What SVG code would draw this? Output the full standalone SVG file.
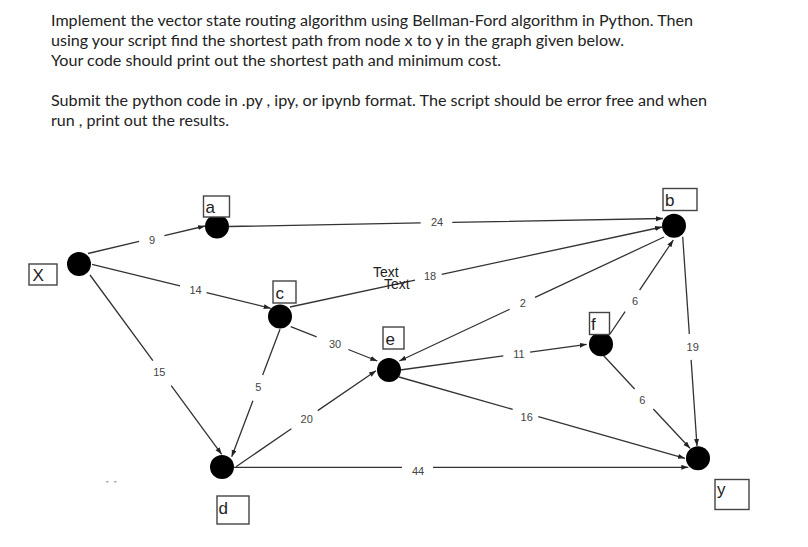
<svg xmlns="http://www.w3.org/2000/svg" width="808" height="547" viewBox="0 0 808 547">
<style>
.para{font-family:Lato,"Liberation Sans",sans-serif;font-size:15.5px;fill:#222}
.edge{stroke:#333;stroke-width:1.3;fill:none;marker-end:url(#arr)}
.elab{font-family:"Liberation Sans",Arial,sans-serif;font-size:11px;fill:#444;text-anchor:middle}
.node{fill:#000}
.box{fill:#fff;stroke:#444;stroke-width:1.4}
.blab{font-family:"Liberation Sans",Arial,sans-serif;font-size:17px;fill:#222}
.tx{font-family:"Liberation Sans",Arial,sans-serif;font-size:14px;fill:#222}
</style>
<defs>
<marker id="arr" markerUnits="userSpaceOnUse" markerWidth="8" markerHeight="6" refX="7" refY="2.5" orient="auto">
<path d="M0,0 L7,2.5 L0,5 z" fill="#222"/>
</marker>
</defs>
<rect width="808" height="547" fill="#fff"/>
<g id="instructions">
<text class="para" x="51" y="26" textLength="642" lengthAdjust="spacingAndGlyphs">Implement the vector state routing algorithm using Bellman-Ford algorithm in Python. Then</text>
<text class="para" x="51" y="46" textLength="573" lengthAdjust="spacingAndGlyphs">using your script find the shortest path from node x to y in the graph given below.</text>
<text class="para" x="51" y="66" textLength="450" lengthAdjust="spacingAndGlyphs">Your code should print out the shortest path and minimum cost.</text>
<text class="para" x="51" y="106" textLength="656" lengthAdjust="spacingAndGlyphs">Submit the python code in .py , ipy, or ipynb format. The script should be error free and when</text>
<text class="para" x="51" y="126" textLength="178" lengthAdjust="spacingAndGlyphs">run , print out the results.</text>
</g>
<g id="connectors">
<line class="edge" x1="88" y1="253.5" x2="205" y2="226" stroke-dasharray="52.5 26 999"/>
<line class="edge" x1="229" y1="226.5" x2="663" y2="218.5" stroke-dasharray="191.7 31.6 999"/>
<line class="edge" x1="92" y1="264.3" x2="270.7" y2="308.3" stroke-dasharray="90.6 27.4 999"/>
<line class="edge" x1="290" y1="307" x2="662" y2="227" stroke-dasharray="127.9 27.3 999"/>
<line class="edge" x1="664" y1="237" x2="399.3" y2="361" stroke-dasharray="142.4 28 999"/>
<line class="edge" x1="400" y1="370" x2="586.7" y2="344.3" stroke-dasharray="104.3 27 999"/>
<line class="edge" x1="610" y1="334" x2="673.3" y2="240" stroke-dasharray="27 26 999"/>
<line class="edge" x1="682.7" y1="236.7" x2="697" y2="446" stroke-dasharray="97.5 26 999"/>
<line class="edge" x1="603" y1="355" x2="690" y2="448.3" stroke-dasharray="46.4 27.4 999"/>
<line class="edge" x1="399" y1="377" x2="685" y2="458.3" stroke-dasharray="118.2 26.6 999"/>
<line class="edge" x1="234" y1="467.3" x2="688.3" y2="467.3" stroke-dasharray="168 31 999"/>
<line class="edge" x1="90" y1="275" x2="221.7" y2="454.3" stroke-dasharray="106.2 31 999"/>
<line class="edge" x1="280" y1="329.3" x2="231.7" y2="456.7" stroke-dasharray="48.9 27.5 999"/>
<line class="edge" x1="236" y1="466.7" x2="376" y2="370.7" stroke-dasharray="67.1 32 999"/>
<line class="edge" x1="290.7" y1="326.7" x2="377.3" y2="361" stroke-dasharray="27.9 34 999"/>
<text class="elab" x="152" y="243.5">9</text>
<text class="elab" x="437" y="225.5">24</text>
<text class="elab" x="195.5" y="294">14</text>
<text class="elab" x="430" y="279.5">18</text>
<text class="elab" x="522.7" y="306.7">2</text>
<text class="elab" x="519" y="358.3">11</text>
<text class="elab" x="635" y="304.7">6</text>
<text class="elab" x="692.7" y="350.7">19</text>
<text class="elab" x="642.3" y="404">6</text>
<text class="elab" x="526.7" y="420.7">16</text>
<text class="elab" x="418" y="474.8">44</text>
<text class="elab" x="159.3" y="376.3">15</text>
<text class="elab" x="258.3" y="390.7">5</text>
<text class="elab" x="306.7" y="423.3">20</text>
<text class="elab" x="335" y="348.3">30</text>
<text class="tx" x="373" y="277">Text</text>
<text class="tx" x="384" y="289">Text</text>
</g>
<g id="node-x"><circle class="node" cx="79" cy="264" r="12"/><rect class="box" x="29" y="264" width="28" height="21"/><text class="blab" x="32.5" y="281">X</text></g>
<g id="node-a"><circle class="node" cx="217" cy="226.5" r="12"/><rect class="box" x="203.5" y="196" width="26" height="21"/><text class="blab" x="205.5" y="212.5">a</text></g>
<g id="node-c"><circle class="node" cx="280" cy="316.5" r="12"/><rect class="box" x="273" y="281" width="23" height="22"/><text class="blab" x="275.5" y="299">c</text></g>
<g id="node-e"><circle class="node" cx="389" cy="370" r="12"/><rect class="box" x="383" y="327" width="21" height="22"/><text class="blab" x="385.5" y="344.5">e</text></g>
<g id="node-b"><circle class="node" cx="674" cy="225.7" r="12"/><rect class="box" x="663" y="188.5" width="34" height="22"/><text class="blab" x="665" y="206">b</text></g>
<g id="node-f"><circle class="node" cx="601" cy="344.3" r="12"/><rect class="box" x="589.5" y="312.5" width="20" height="22"/><text class="blab" x="591" y="329.5">f</text></g>
<g id="node-d"><circle class="node" cx="222" cy="467" r="12"/><rect class="box" x="217" y="496" width="32" height="28"/><text class="blab" x="218.5" y="513.5">d</text></g>
<g id="node-y"><circle class="node" cx="698" cy="458.3" r="12"/><rect class="box" x="715" y="479.5" width="34" height="30"/><text class="blab" x="717" y="495">y</text></g>
<g id="marks"><rect x="106" y="481" width="2.5" height="1.5" fill="#aaa"/><rect x="114" y="481" width="2.5" height="1.5" fill="#aaa"/></g>
</svg>
